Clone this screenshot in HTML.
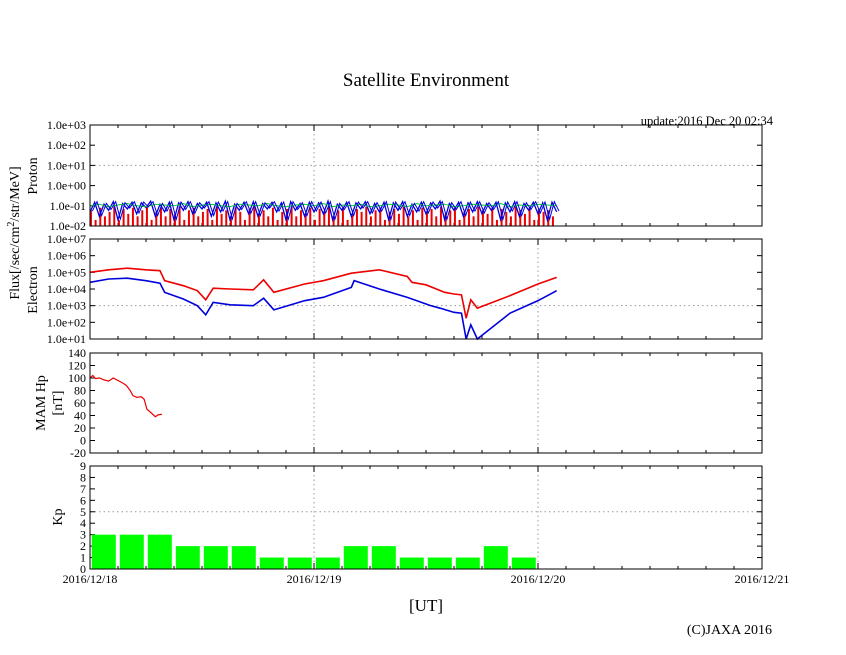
<!DOCTYPE html>
<html><head><meta charset="utf-8"><style>
body{margin:0;background:#fff;width:846px;height:655px;overflow:hidden}
svg{display:block;font-family:"Liberation Serif",serif}
</style></head><body>
<svg id="c" width="846" height="655">
<text x="426" y="86" font-size="19" text-anchor="middle">Satellite Environment</text>
<text x="773" y="125" font-size="12.5" text-anchor="end">update:2016 Dec 20 02:34</text>
<text transform="translate(19,233) rotate(-90)" font-size="14" text-anchor="middle">Flux[/sec/cm<tspan font-size="10" dy="-5">2</tspan><tspan dy="5">/str/MeV]</tspan></text>
<text transform="translate(37,176) rotate(-90)" font-size="14" text-anchor="middle">Proton</text>
<text transform="translate(37,290) rotate(-90)" font-size="14" text-anchor="middle">Electron</text>
<text transform="translate(45,403) rotate(-90)" font-size="14" text-anchor="middle">MAM Hp</text>
<text transform="translate(62,403) rotate(-90)" font-size="14" text-anchor="middle">[nT]</text>
<text transform="translate(62,517) rotate(-90)" font-size="14" text-anchor="middle">Kp</text>
<text x="426" y="611" font-size="17" text-anchor="middle">[UT]</text>
<text x="772" y="634" font-size="14" text-anchor="end">(C)JAXA 2016</text>
<g id="g"></g>
</svg>
<script>
const dayLabels=["2016/12/18","2016/12/19","2016/12/20","2016/12/21"];
const protonTicks=["1.0e-02","1.0e-01","1.0e+00","1.0e+01","1.0e+02","1.0e+03"];
const electronTicks=["1.0e+01","1.0e+02","1.0e+03","1.0e+04","1.0e+05","1.0e+06","1.0e+07"];
const hpTicks=[-20,0,20,40,60,80,100,120,140];
const kpTicks=[0,1,2,3,4,5,6,7,8,9];
const kpValues=[3,3,3,2,2,2,1,1,1,2,2,1,1,1,2,1];
const eRedH=[0,2,4,6,7.5,8,10,11.5,12.4,13.2,15,17.5,18.6,19.7,23,25,28,31,34,34.5,36,38,39,39.8,40.3,40.8,41.5,45,48,50];
const eRedV=[5.0,5.15,5.25,5.15,5.1,4.5,4.2,3.9,3.35,4.05,4.0,3.95,4.55,3.8,4.3,4.5,4.95,5.15,4.75,4.4,4.25,3.8,3.7,3.65,2.25,3.35,2.85,3.6,4.3,4.7];
const eBlueH=[0,2,4,6,7.5,8,10,11.5,12.4,13.2,15,17.5,18.6,19.7,23,25,28,28.3,31,34,36.5,37.5,39,39.8,40.3,40.8,41.5,45,48,50];
const eBlueV=[4.4,4.6,4.65,4.5,4.35,3.8,3.4,3.0,2.45,3.2,3.05,3.0,3.45,2.75,3.3,3.5,4.1,4.5,4.0,3.5,3.0,2.85,2.6,2.55,1.0,1.85,1.0,2.55,3.3,3.9];
const hpH=[0,0.3,0.6,1,1.5,2,2.5,3,3.5,3.9,4.3,4.6,5,5.5,5.8,6.1,6.5,7,7.3,7.7];
const hpV=[100,104,99,100,97,95,100,96,92,88,80,72,69,70,66,50,45,38,41,42];
const pBlue=[0.05,0.15,0.03,0.12,0.06,0.16,0.02,0.13,0.07,0.15,0.04,0.14,0.08,0.17,0.03,0.12,0.05,0.15,0.02,0.14,0.06,0.16,0.04,0.13,0.07,0.15,0.03,0.14,0.05,0.17,0.02,0.12,0.06,0.15,0.04,0.16,0.03,0.13,0.07,0.15,0.05,0.14,0.02,0.16,0.06,0.13,0.03,0.15,0.05,0.14,0.04,0.17,0.02,0.12,0.06,0.15,0.03,0.14,0.07,0.16,0.04,0.13,0.05,0.15,0.02,0.14,0.06,0.16,0.03,0.12,0.05,0.15,0.04,0.14,0.07,0.17,0.02,0.13,0.06,0.15,0.03,0.14,0.05,0.16,0.04,0.13,0.06,0.15,0.02,0.14,0.05,0.16,0.03,0.13,0.06,0.15,0.04,0.14,0.02,0.15,0.05];
const pGreen=[0.1,0.12,0.09,0.11,0.13,0.1,0.09,0.12,0.11,0.1,0.13,0.09,0.11,0.12,0.1,0.09,0.12,0.11,0.1,0.13,0.1,0.09,0.11,0.12,0.1,0.13,0.09,0.11,0.1,0.12,0.09,0.1,0.12,0.11,0.09,0.13,0.1,0.11,0.12,0.09,0.1,0.12,0.11,0.1,0.13,0.09,0.11,0.1,0.12,0.11,0.1];
const pRed=[0.06,0.02,0.08,0.03,0.05,0.09,0.02,0.07,0.04,0.08,0.03,0.06,0.09,0.02,0.05,0.08,0.03,0.07,0.04,0.09,0.02,0.06,0.08,0.03,0.05,0.07,0.02,0.09,0.04,0.06,0.03,0.08,0.05,0.02,0.07,0.09,0.04,0.06,0.03,0.08,0.02,0.05,0.07,0.09,0.03,0.06,0.04,0.08,0.02,0.07,0.05,0.09,0.03,0.06,0.08,0.02,0.04,0.07,0.05,0.09,0.03,0.06,0.08,0.02,0.05,0.07,0.04,0.09,0.03,0.06,0.02,0.08,0.05,0.07,0.03,0.09,0.04,0.06,0.08,0.02,0.05,0.07,0.03,0.09,0.06,0.04,0.08,0.02,0.07,0.05,0.03,0.09,0.06,0.04,0.08,0.02,0.07,0.05,0.06,0.03];

const NS='http://www.w3.org/2000/svg',G=document.getElementById('g');
const X0=90,X1=762;
const xs=h=>X0+h*(X1-X0)/72;
function mk(t,a,nm){const e=document.createElementNS(NS,t);for(const k in a)e.setAttribute(k,a[k]);


G.appendChild(e);return e;}
const panels=[{t:125,b:226,lo:-2,hi:3},{t:239,b:339,lo:1,hi:7},{t:353,b:453,lo:-20,hi:140},{t:466,b:569,lo:0,hi:9}];
const ys=(p,v)=>p.b-(v-p.lo)*(p.b-p.t)/(p.hi-p.lo);
const tickSets=[protonTicks.map((l,i)=>[i-2,l]),electronTicks.map((l,i)=>[i+1,l]),hpTicks.map(v=>[v,String(v)]),kpTicks.map(v=>[v,String(v)])];
const gridY=[1,3,null,5];
panels.forEach((p,pi)=>{
  [24,48].forEach(h=>mk('line',{x1:xs(h),x2:xs(h),y1:p.t,y2:p.b,stroke:'#999','stroke-dasharray':'1.5,3'},'vertical-grid-line'));
  if(gridY[pi]!=null)mk('line',{x1:X0,x2:X1,y1:ys(p,gridY[pi]),y2:ys(p,gridY[pi]),stroke:'#999','stroke-dasharray':'1.5,3'},'horizontal-grid-line');
  tickSets[pi].forEach(([v,l])=>{const y=ys(p,v);
    mk('line',{x1:X0,x2:X0+5,y1:y,y2:y,stroke:'#000'},'y-tick');
    mk('line',{x1:X1-5,x2:X1,y1:y,y2:y,stroke:'#000'},'y-tick');
    const t=mk('text',{x:86,y:y+4,'font-size':12,'text-anchor':'end'},'y-tick-label');t.textContent=l;});
  for(let h=0;h<=72;h+=3){const x=xs(h),L=h%24==0?6:3;
    mk('line',{x1:x,x2:x,y1:p.t,y2:p.t+L,stroke:'#000'},'x-tick');
    mk('line',{x1:x,x2:x,y1:p.b-L,y2:p.b,stroke:'#000'},'x-tick');}
});
const P0=panels[0],lg=v=>ys(P0,Math.log10(v));
pRed.forEach((v,i)=>{const x=xs(i*0.5+0.1);mk('line',{x1:x,x2:x,y1:P0.b,y2:lg(v),stroke:'#e00','stroke-width':2},'proton-red-spike');});
mk('polyline',{points:pBlue.map((v,i)=>xs(i*0.5)+','+lg(v)).join(' '),fill:'none',stroke:'#00d','stroke-width':1.3},'proton-blue-line');
mk('polyline',{points:pGreen.map((v,i)=>xs(i)+','+lg(v)).join(' '),fill:'none',stroke:'#0c3','stroke-width':1},'proton-green-line');
mk('polyline',{points:pBlue.map((v,i)=>xs(i*0.5+0.25)+','+lg(Math.min(0.16,v*1.1))).join(' '),fill:'none',stroke:'#00d','stroke-width':1},'proton-blue-line-2');
const P1=panels[1];
mk('polyline',{points:eRedH.map((h,i)=>xs(h)+','+ys(P1,eRedV[i])).join(' '),fill:'none',stroke:'#e00','stroke-width':1.6},'electron-red-line');
mk('polyline',{points:eBlueH.map((h,i)=>xs(h)+','+ys(P1,eBlueV[i])).join(' '),fill:'none',stroke:'#00d','stroke-width':1.6},'electron-blue-line');
const P2=panels[2];
mk('polyline',{points:hpH.map((h,i)=>xs(h)+','+ys(P2,hpV[i])).join(' '),fill:'none',stroke:'#e00','stroke-width':1.2},'hp-line');
const P3=panels[3];
kpValues.forEach((v,i)=>{const x=xs(i*3)+1.8;mk('rect',{x:x,y:ys(P3,v),width:24,height:P3.b-ys(P3,v),fill:'#0f0'},'kp-bar');});
panels.forEach(p=>mk('rect',{x:X0,y:p.t,width:X1-X0,height:p.b-p.t,fill:'none',stroke:'#000','stroke-width':1},'panel-frame'));
dayLabels.forEach((l,i)=>{const t=mk('text',{x:xs(i*24),y:583,'font-size':12,'text-anchor':'middle'},'x-tick-label');t.textContent=l;});
</script>
</body></html>
